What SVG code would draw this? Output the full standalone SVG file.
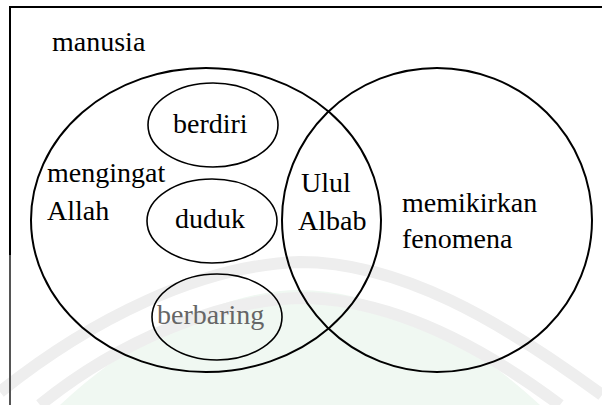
<svg xmlns="http://www.w3.org/2000/svg" width="602" height="405" viewBox="0 0 602 405">
<style>
.t{font-family:'Liberation Serif','Times New Roman',Times,serif;font-size:28px;fill:#000}
.big{fill:none;stroke:#000;stroke-width:2}
.small{fill:none;stroke:#000;stroke-width:1.6}
.wm{fill:none;stroke:#eeeeee;stroke-width:12}
</style>
<rect width="602" height="405" fill="#fff"/>
<g id="watermark">
<path d="M60,405 C140,330 230,290 300,290 C380,290 470,340 540,405 Z" fill="#f0f8f2"/>
<path class="wm" d="M0,392 C90,320 200,265 300,262 C400,262 500,320 602,395"/>
<path class="wm" d="M40,405 C120,340 220,300 300,298 C390,298 480,345 560,405"/>
</g>
<g id="frame" fill="none" stroke-width="2">
<path d="M10,255 V7 H602" stroke="#000"/>
<path d="M10,405 V255" stroke="#555"/>
</g>
<g id="manusia"><text class="t" x="52" y="51">manusia</text></g>
<g id="mengingat-allah">
<ellipse class="big" cx="206" cy="220" rx="175" ry="152"/>
<text class="t" x="47" y="182">mengingat</text>
<text class="t" x="47" y="220">Allah</text>
</g>
<g id="memikirkan-fenomena">
<ellipse class="big" cx="437" cy="220" rx="155" ry="152"/>
<text class="t" x="402" y="212">memikirkan</text>
<text class="t" x="402" y="248">fenomena</text>
</g>
<g id="ulul-albab">
<text class="t" x="301" y="192">Ulul</text>
<text class="t" x="298" y="230">Albab</text>
</g>
<g id="berdiri">
<ellipse class="small" cx="213" cy="125" rx="65" ry="42"/>
<text class="t" x="173" y="133">berdiri</text>
</g>
<g id="duduk">
<ellipse class="small" cx="212" cy="221" rx="65" ry="42"/>
<text class="t" x="175" y="228">duduk</text>
</g>
<g id="berbaring">
<ellipse class="small" cx="217" cy="317" rx="65" ry="43" stroke="#555"/>
<text class="t" x="157" y="324" style="fill:#666">berbaring</text>
</g>
<g id="connectors"/>
</svg>
